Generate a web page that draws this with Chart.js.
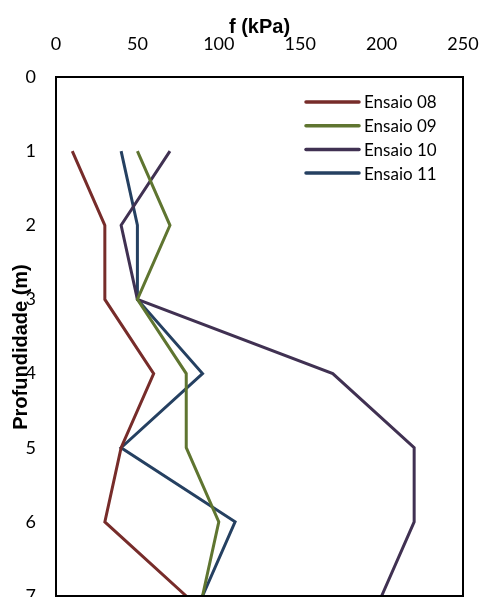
<!DOCTYPE html>
<html>
<head>
<meta charset="utf-8">
<script src="https://cdn.jsdelivr.net/npm/chart.js@4/dist/chart.umd.min.js"></script>
<style>
  html, body { margin: 0; padding: 0; background: #fff; }
  #wrap { width: 480px; height: 597px; }
</style>
</head>
<body>
<div id="wrap"><canvas id="perfil"></canvas></div>
<script>
// profundidade (m) and f (kPa) for each ensaio
const depths = [1, 2, 3, 4, 5, 6, 7];
const ensaio08 = [10, 30, 30, 60, 40, 30, 80];
const ensaio09 = [50, 70, 50, 80, 80, 100, 90];
const ensaio10 = [70, 40, 50, 170, 220, 220, 200];
const ensaio11 = [40, 50, 50, 90, 40, 110, 90];

const seriesNames = ["Ensaio 08", "Ensaio 09", "Ensaio 10", "Ensaio 11"];
const seriesColors = ["#772C2A", "#5F7530", "#403152", "#254061"];
const xTicks = [0, 50, 100, 150, 200, 250];
const yTicks = [0, 1, 2, 3, 4, 5, 6, 7];

const tickFont = { family: "Lato", size: 18 };
const titleFont = "bold 20px 'Liberation Sans', Arial, sans-serif";

const toPoints = (vals) => vals.map((v, i) => ({ x: v, y: depths[i] }));

const datasets = [ensaio08, ensaio09, ensaio10, ensaio11].map((vals, i) => ({
  label: seriesNames[i],
  data: toPoints(vals),
  borderColor: seriesColors[i],
  backgroundColor: seriesColors[i],
  borderWidth: 3,
  pointRadius: 0,
  tension: 0,
  fill: false,
}));

// box round the plot, legend inside it and the rotated y title
const decorations = {
  id: "decorations",
  afterDatasetsDraw(chart) {
    const { ctx, chartArea: a } = chart;
    ctx.save();
    ctx.strokeStyle = "#000";
    ctx.lineWidth = 2;
    ctx.strokeRect(a.left, a.top, a.right - a.left, a.bottom - a.top);

    // legend
    ctx.font = "17px Lato";
    ctx.textBaseline = "middle";
    ctx.textAlign = "left";
    seriesNames.forEach((name, i) => {
      const y = 102 + i * 23.7;
      ctx.strokeStyle = seriesColors[i];
      ctx.lineWidth = 3.5;
      ctx.lineCap = "round";
      ctx.beginPath();
      ctx.moveTo(306, y);
      ctx.lineTo(359, y);
      ctx.stroke();
      ctx.fillStyle = "#000";
      ctx.fillText(name, 364, y + 1);
    });

    // y title
    ctx.font = titleFont;
    ctx.fillStyle = "#000";
    ctx.textAlign = "center";
    ctx.translate(21, 347);
    ctx.rotate(-Math.PI / 2);
    ctx.fillText("Profundidade (m)", 0, 0);
    ctx.restore();
  },
};

new Chart(document.getElementById("perfil"), {
  type: "line",
  data: { datasets },
  plugins: [decorations],
  options: {
    animation: false,
    responsive: true,
    maintainAspectRatio: false,
    layout: { padding: { left: 0, right: 17, top: 0, bottom: 1 } },
    plugins: { legend: { display: false }, tooltip: { enabled: false } },
    scales: {
      x: {
        type: "linear",
        position: "top",
        min: 0,
        max: 250,
        afterBuildTicks: (s) => { s.ticks = xTicks.map((v) => ({ value: v })); },
        afterFit: (s) => { s.height = 77; s.paddingLeft = 0; s.paddingRight = 0; },
        grid: { display: false, drawTicks: false },
        border: { display: false },
        ticks: { color: "#000", font: tickFont, padding: 22 },
        title: {
          display: true,
          text: "f (kPa)",
          color: "#000",
          font: { family: "'Liberation Sans', Arial, sans-serif", size: 20, weight: "bold" },
          padding: { top: 15, bottom: 0 },
        },
      },
      y: {
        type: "linear",
        reverse: true,
        min: 0,
        max: 7,
        afterBuildTicks: (s) => { s.ticks = yTicks.map((v) => ({ value: v })); },
        afterFit: (s) => { s.width = 56; s.paddingTop = 0; s.paddingBottom = 0; },
        grid: { display: false, drawTicks: false },
        border: { display: false },
        ticks: { color: "#000", font: tickFont, padding: 20 },
      },
    },
  },
});
</script>
</body>
</html>
